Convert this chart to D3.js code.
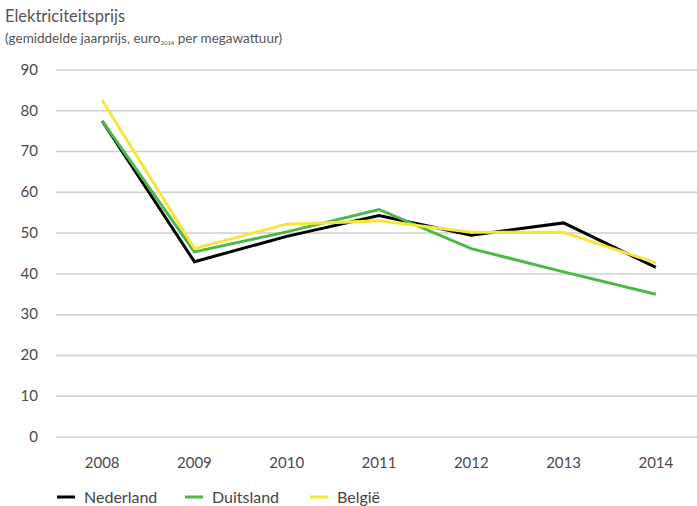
<!DOCTYPE html>
<html>
<head>
<meta charset="utf-8">
<script src="https://cdn.jsdelivr.net/npm/d3@7"></script>
<style>
  body { margin: 0; background: #fff; }
  svg { display: block; font-family: Lato, "Open Sans", sans-serif; }
  .grid line { stroke: #cfcfcf; stroke-width: 1.5; }
  .tick-label { fill: #4a4a4a; font-size: 15px; }
  .title { fill: #555; font-size: 16.5px; }
  .subtitle { fill: #555; font-size: 13.5px; }
  .legend text { fill: #444; font-size: 16px; }
</style>
</head>
<body>
<div id="chart"></div>
<script>
  const years = [2008, 2009, 2010, 2011, 2012, 2013, 2014];
  const yTicks = [0, 10, 20, 30, 40, 50, 60, 70, 80, 90];
  const nederland = [77.5, 43.0, 49.2, 54.3, 49.5, 52.5, 41.6];
  const duitsland = [77.5, 45.4, 50.3, 55.8, 46.2, 40.5, 35.0];
  const belgie = [82.6, 46.2, 52.2, 53.0, 50.2, 50.2, 42.7];

  const series = [
    { name: "Nederland", color: "#000000", values: nederland },
    { name: "Duitsland", color: "#4cb848", values: duitsland },
    { name: "België", color: "#f4e63a", values: belgie },
  ];

  const width = 697;
  const height = 506;

  const x = d3.scalePoint().domain(years).range([56, 702]).padding(0.5);
  const y = d3.scaleLinear().domain([0, 90]).range([437, 70]);

  const svg = d3
    .select("#chart")
    .append("svg")
    .attr("width", width)
    .attr("height", height);

  // title
  svg.append("text").attr("class", "title").attr("x", 5).attr("y", 22).text("Elektriciteitsprijs");
  const sub = svg.append("text").attr("class", "subtitle").attr("x", 5).attr("y", 43);
  sub.append("tspan").text("(gemiddelde jaarprijs, euro");
  sub.append("tspan").attr("font-size", 6).attr("dy", 2).text("2014");
  sub.append("tspan").attr("dy", -2).text(" per megawattuur)");

  // grid + y labels
  const grid = svg.append("g").attr("class", "grid");
  grid
    .selectAll("line")
    .data(yTicks)
    .join("line")
    .attr("x1", 56)
    .attr("x2", width)
    .attr("y1", (d) => y(d))
    .attr("y2", (d) => y(d));

  svg
    .append("g")
    .selectAll("text")
    .data(yTicks)
    .join("text")
    .attr("class", "tick-label")
    .attr("x", 38)
    .attr("y", (d) => y(d))
    .attr("dy", "0.32em")
    .attr("text-anchor", "end")
    .text((d) => d);

  // x labels
  svg
    .append("g")
    .selectAll("text")
    .data(years)
    .join("text")
    .attr("class", "tick-label")
    .attr("x", (d) => x(d))
    .attr("y", 468)
    .attr("text-anchor", "middle")
    .text((d) => d);

  // lines
  const line = d3
    .line()
    .x((d, i) => x(years[i]))
    .y((d) => y(d));

  svg
    .append("g")
    .selectAll("path")
    .data(series)
    .join("path")
    .attr("fill", "none")
    .attr("stroke", (d) => d.color)
    .attr("stroke-width", 3)
    .attr("stroke-linejoin", "miter")
    .attr("d", (d) => line(d.values));

  // legend
  const legendX = [57, 185, 310];
  const legend = svg
    .append("g")
    .attr("class", "legend")
    .selectAll("g")
    .data(series)
    .join("g")
    .attr("transform", (d, i) => `translate(${legendX[i]},497)`);
  legend
    .append("line")
    .attr("x1", 0)
    .attr("x2", 18)
    .attr("stroke", (d) => d.color)
    .attr("stroke-width", 3);
  legend
    .append("text")
    .attr("x", 27)
    .attr("dy", "0.35em")
    .text((d) => d.name);
</script>
</body>
</html>
